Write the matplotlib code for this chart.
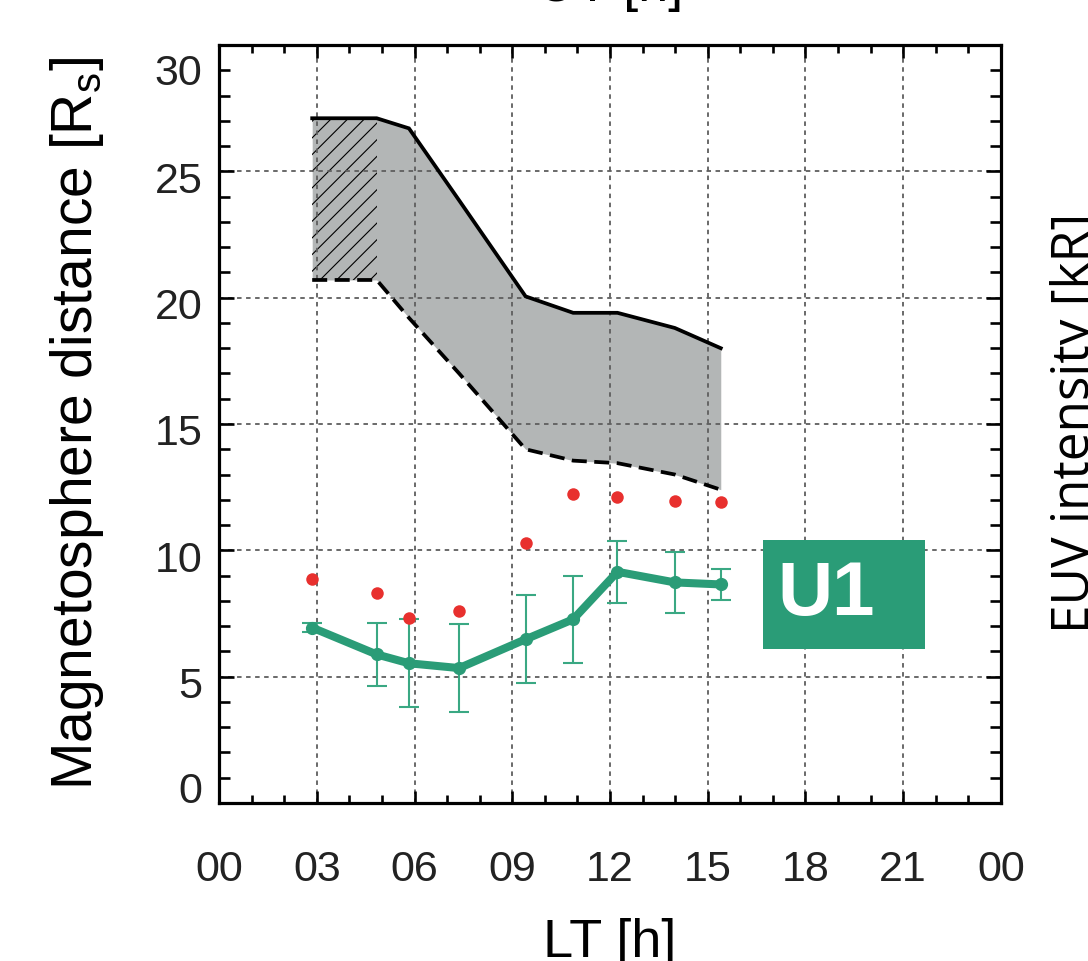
import numpy as np
import matplotlib
matplotlib.use('Agg')
import matplotlib.pyplot as plt
from matplotlib.ticker import MultipleLocator
from matplotlib.transforms import ScaledTranslation
from matplotlib.patches import Rectangle

plt.rcParams['font.family'] = ['Liberation Sans', 'DejaVu Sans']
plt.rcParams['mathtext.fontset'] = 'custom'
plt.rcParams['mathtext.rm'] = 'Liberation Sans'
plt.rcParams['mathtext.it'] = 'Liberation Sans:italic'
plt.rcParams['hatch.linewidth'] = 0.8

# local time of each sample [h]
lt = [2.86, 4.84, 5.83, 7.37, 9.41, 10.87, 12.23, 13.99, 15.4]
# magnetosphere boundary band
upper = [27.1, 27.1, 26.7, 23.85, 20.05, 19.4, 19.4, 18.8, 18.0]
lower = [20.7, 20.7, 19.2, 17.0, 14.0, 13.55, 13.45, 13.0, 12.4]
# U1 mean distance and spread
u1_mean = [6.94, 5.88, 5.53, 5.34, 6.48, 7.27, 9.15, 8.73, 8.65]
u1_err = [0.18, 1.23, 1.74, 1.74, 1.74, 1.73, 1.22, 1.21, 0.63]
# red markers
red_pts = [8.85, 8.32, 7.31, 7.6, 10.28, 12.22, 12.1, 11.95, 11.91]
hatch_n = 2  # first two samples are hatched

xticks = list(range(0, 25, 3))
xticklabels = ['00', '03', '06', '09', '12', '15', '18', '21', '00']
yticks = list(range(0, 31, 5))

green = '#2a9c77'

fig = plt.figure(figsize=(10.88, 9.61), dpi=100)
ax = fig.add_axes([0.2013, 0.1644, 0.7187, 0.7888])

ax.fill_between(lt, lower, upper, color='#b3b6b6', linewidth=0, zorder=1)
ax.fill_between(lt[:hatch_n], lower[:hatch_n], upper[:hatch_n], facecolor='none',
                edgecolor='black', hatch='//', linewidth=0, zorder=1.2)
ax.plot(lt, upper, color='black', lw=2.7, zorder=2, solid_joinstyle='miter')
ax.plot(lt, lower, color='black', lw=2.7, ls=(0, (4, 2)), zorder=2)

ax.plot(lt, red_pts, 'o', color='#e8302e', ms=9, mec='none', zorder=3)

ax.errorbar(lt, u1_mean, yerr=u1_err, fmt='none', ecolor='#3aa883',
            elinewidth=1.5, capsize=7, capthick=1.5, zorder=2.5)
ax.plot(lt, u1_mean, '-o', color=green, lw=5.8, ms=8.5, zorder=3)

# U1 label box
ax.add_patch(Rectangle((0.6957, 0.2032), 0.2071, 0.1438, transform=ax.transAxes,
                       facecolor=green, edgecolor='none', zorder=4))
ax.text(0.776, 0.274, 'U1', transform=ax.transAxes, color='white', fontsize=55,
        fontweight='bold', ha='center', va='center', zorder=5)

ax.set_xlim(0, 24)
ax.set_ylim(0, 30)
ax.set_xticks(xticks)
ax.set_xticklabels(xticklabels)
ax.set_yticks(yticks)
ax.xaxis.set_minor_locator(MultipleLocator(1))
ax.yaxis.set_minor_locator(MultipleLocator(1))

ax.set_axisbelow('line')
ax.grid(True, which='major', color='#5e5e5e', lw=1.3, ls=(0, (2.5, 2.5)))

for sp in ax.spines.values():
    sp.set_linewidth(2.3)

ax.tick_params(which='both', direction='in', top=True, right=True, width=1.9,
               colors='black', labelcolor='#222222')
ax.tick_params(axis='x', which='major', length=9, pad=34, labelsize=31)
ax.tick_params(axis='x', which='minor', length=5.5)
ax.tick_params(axis='y', which='major', length=11, pad=12, labelsize=31)
ax.tick_params(axis='y', which='minor', length=8)

ax.set_xlabel('LT [h]', fontsize=39)
ax.xaxis.set_label_coords(0.5, -0.152)
ax.xaxis.label.set_va('top')
ax.set_ylabel(r'Magnetosphere distance [R$_\mathrm{s}$]', fontsize=41)
ax.yaxis.set_label_coords(-0.145, 0.5)

# nudge y tick labels like the original
shifts = [16, -6, -6, -6, -6, -6, -25]
for lab, dy in zip(ax.get_yticklabels(), shifts):
    lab.set_transform(lab.get_transform() + ScaledTranslation(0, dy / 100, fig.dpi_scale_trans))

# labels of neighbouring panels, cut by the figure edge
fig.text(0.5607, 1 - 1 / 961, 'UT [h]', fontsize=39, ha='center', va='baseline')
fig.text(1.001, 0.56, 'EUV intensity [kR]', fontsize=37, rotation=90,
         family=['Open Sans', 'DejaVu Sans'], ha='center', va='baseline',
         rotation_mode='anchor')

fig.savefig('out.png', dpi=100)
